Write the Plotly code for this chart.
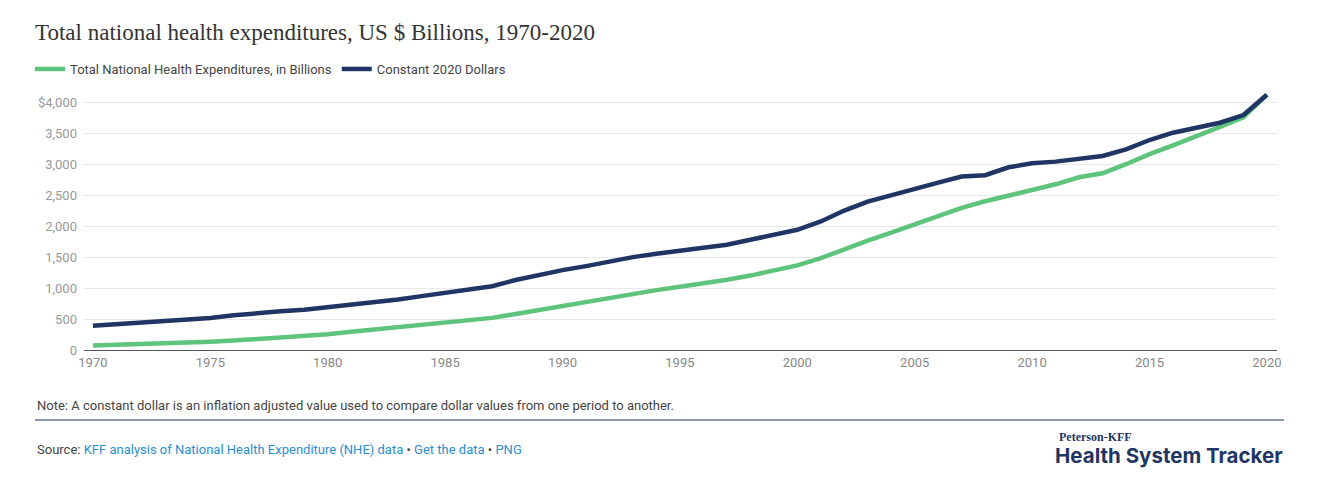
import plotly.graph_objects as go

# --- data ---
years = [1970, 1971, 1972, 1973, 1974, 1975, 1976, 1977, 1978, 1979,
         1980, 1981, 1982, 1983, 1984, 1985, 1986, 1987, 1988, 1989,
         1990, 1991, 1992, 1993, 1994, 1995, 1996, 1997, 1998, 1999,
         2000, 2001, 2002, 2003, 2004, 2005, 2006, 2007, 2008, 2009,
         2010, 2011, 2012, 2013, 2014, 2015, 2016, 2017, 2018, 2019, 2020]

# total national health expenditures, nominal $ billions
nhe_billions = [74.1, 82.4, 92.7, 102.8, 116.5, 133.3, 152.7, 173.9, 195.3, 221.4,
                253.2, 294.3, 330.3, 366.0, 403.6, 444.6, 476.9, 518.9, 581.8, 647.5,
                719.7, 788.1, 853.9, 916.6, 967.2, 1021.6, 1074.4, 1135.5, 1202.0, 1278.5,
                1366.0, 1482.4, 1628.6, 1767.6, 1895.0, 2024.5, 2157.0, 2296.2, 2402.9, 2496.4,
                2589.6, 2676.5, 2790.4, 2855.4, 3001.4, 3163.6, 3305.6, 3446.5, 3604.5, 3757.4, 4124.0]

# same series in constant 2020 dollars
constant_2020 = [390, 415, 452, 478, 492, 518, 560, 598, 625, 652,
                 690, 725, 770, 815, 870, 920, 975, 1030, 1130, 1215,
                 1290, 1355, 1435, 1500, 1555, 1600, 1650, 1700, 1781, 1861,
                 1942, 2076, 2253, 2398, 2506, 2603, 2705, 2801, 2823, 2952,
                 3016, 3043, 3091, 3134, 3242, 3392, 3510, 3591, 3671, 3795, 4124]

x_ticks = [1970, 1975, 1980, 1985, 1990, 1995, 2000, 2005, 2010, 2015, 2020]
y_ticks = [0, 500, 1000, 1500, 2000, 2500, 3000, 3500, 4000]
y_tick_text = ["0", "500", "1,000", "1,500", "2,000", "2,500", "3,000", "3,500", "$4,000"]

GREEN = "#5fc47b"
NAVY = "#1f3564"
SANS = "Roboto, Lato, sans-serif"

W, H = 1318, 484
L, R, T, B = 84, 41, 90, 134
pw, ph = W - L - R, H - T - B


def px(x):
    return (x - L) / pw


def py(y):
    return (H - B - y) / ph


fig = go.Figure()
fig.add_trace(go.Scatter(
    x=years, y=nhe_billions, mode="lines",
    name="Total National Health Expenditures, in Billions",
    line=dict(color=GREEN, width=4.5),
))
fig.add_trace(go.Scatter(
    x=years, y=constant_2020, mode="lines",
    name="Constant 2020 Dollars",
    line=dict(color=NAVY, width=4.5),
))

fig.update_layout(
    width=W, height=H,
    margin=dict(l=L, r=R, t=T, b=B),
    paper_bgcolor="white", plot_bgcolor="white",
    font=dict(family=SANS, size=13, color="#444"),
    title=dict(
        text="Total national health expenditures, US $ Billions, 1970-2020",
        xref="container", x=35 / W, xanchor="left",
        yref="container", y=1 - 32 / H, yanchor="middle",
        font=dict(family="Liberation Serif, serif", size=23, color="#333"),
    ),
    legend=dict(
        orientation="h", x=px(30), y=py(69), xanchor="left", yanchor="middle",
        font=dict(family=SANS, size=13, color="#444"),
        itemwidth=30, traceorder="normal",
    ),
    showlegend=True,
)

fig.update_xaxes(
    range=[1969.62, 2020.43], tickvals=x_ticks, showgrid=False,
    showline=True, linecolor="#555", linewidth=1,
    ticks="", tickfont=dict(color="#888", size=13), zeroline=False,
)
fig.update_yaxes(
    range=[0, 4200], tickvals=y_ticks, ticktext=y_tick_text,
    showgrid=True, gridcolor="#e8e8e8", gridwidth=1, zeroline=False,
    tickfont=dict(color="#999", size=13), ticklabelstandoff=6,
)

# footer: note, rule, source, logo
fig.add_annotation(
    xref="paper", yref="paper", x=px(35), y=py(405), xanchor="left", yanchor="middle",
    text="Note: A constant dollar is an inflation adjusted value used to compare dollar values from one period to another.",
    showarrow=False, font=dict(family=SANS, size=13, color="#444"),
)
fig.add_shape(type="line", xref="paper", yref="paper",
              x0=px(35), x1=px(1284), y0=py(420), y1=py(420),
              line=dict(color=NAVY, width=1.2))
link = "#2a8fd0"
fig.add_annotation(
    xref="paper", yref="paper", x=px(35), y=py(449), xanchor="left", yanchor="middle",
    text=("Source: <span style='color:%s'>KFF analysis of National Health Expenditure (NHE) data</span>"
          " • <span style='color:%s'>Get the data</span> • <span style='color:%s'>PNG</span>") % (link, link, link),
    showarrow=False, font=dict(family=SANS, size=13, color="#444"),
)
fig.add_annotation(
    xref="paper", yref="paper", x=px(1057), y=py(437), xanchor="left", yanchor="middle",
    text="<b>Peterson-KFF</b>", showarrow=False,
    font=dict(family="Liberation Serif, serif", size=12, color=NAVY),
)
fig.add_annotation(
    xref="paper", yref="paper", x=px(1285), y=py(456), xanchor="right", yanchor="middle",
    text="<b>Health System Tracker</b>", showarrow=False,
    font=dict(family="Inter, sans-serif", size=20.5, color=NAVY),
)

fig.write_html("out.html", config={"displayModeBar": False},
               post_script="document.body.style.margin='0';")
